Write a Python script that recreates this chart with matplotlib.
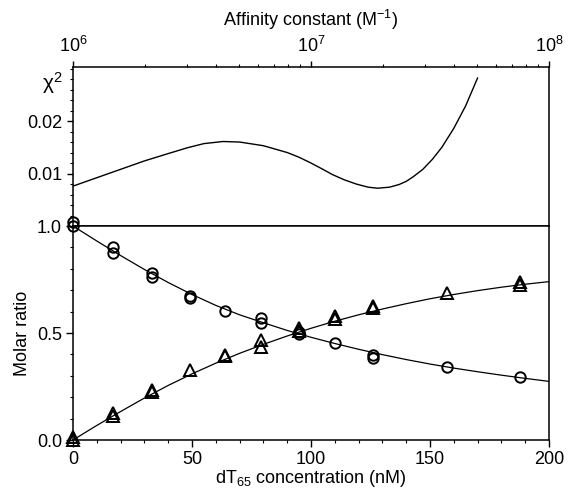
import matplotlib
matplotlib.use("Agg")
import matplotlib.pyplot as plt
import numpy as np
from matplotlib.ticker import MultipleLocator, LogLocator, NullFormatter

plt.rcParams['font.family'] = ['Liberation Sans', 'DejaVu Sans']
plt.rcParams['mathtext.fontset'] = 'custom'
plt.rcParams['mathtext.rm'] = 'Liberation Sans'
plt.rcParams['mathtext.it'] = 'Liberation Sans:italic'

# top panel: chi-square vs affinity constant (log10 K)
log_k = [6.00, 6.10, 6.20, 6.30, 6.40, 6.48, 6.55, 6.63, 6.70, 6.80, 6.90,
         6.95, 7.00, 7.05, 7.09, 7.14, 7.19, 7.24, 7.28, 7.33, 7.37, 7.40,
         7.43, 7.47, 7.51, 7.55, 7.60, 7.65, 7.70]
chi2 = [0.0076, 0.0092, 0.0108, 0.0124, 0.0138, 0.0149, 0.0157, 0.0161, 0.0160,
        0.0153, 0.0140, 0.0131, 0.0120, 0.0108, 0.0098, 0.0088, 0.0080, 0.0074,
        0.0072, 0.0074, 0.0079, 0.0085, 0.0094, 0.0108, 0.0127, 0.0150, 0.0186,
        0.0229, 0.0282]

# bottom panel: measured points
circ_x = [0, 0, 17, 17, 33, 33, 49, 49, 64, 79, 79, 95, 95, 110, 126, 126, 157, 188]
circ_y = [1.02, 1.00, 0.90, 0.875, 0.78, 0.76, 0.675, 0.665, 0.605, 0.57, 0.545,
          0.505, 0.495, 0.452, 0.395, 0.385, 0.34, 0.296]
tri_x = [0, 0, 17, 17, 33, 33, 49, 64, 64, 79, 79, 95, 95, 110, 110, 126, 126, 157, 188, 188]
tri_y = [0.015, 0.0, 0.125, 0.11, 0.232, 0.225, 0.327, 0.398, 0.392, 0.467, 0.436,
         0.522, 0.51, 0.58, 0.565, 0.628, 0.615, 0.688, 0.737, 0.725]

# fitted curves
fit_x = [0, 10, 20, 30, 40, 50, 60, 70, 80, 90, 100, 110, 120, 130, 140, 150,
         160, 170, 180, 190, 200]
fit_circ = [1.0, 0.930, 0.862, 0.797, 0.736, 0.680, 0.629, 0.585, 0.548, 0.512,
            0.480, 0.451, 0.424, 0.399, 0.376, 0.355, 0.336, 0.319, 0.303, 0.288,
            0.274]
fit_tri = [0.0, 0.068, 0.133, 0.196, 0.255, 0.309, 0.359, 0.405, 0.447, 0.486,
           0.522, 0.555, 0.585, 0.612, 0.637, 0.660, 0.680, 0.698, 0.714, 0.728,
           0.740]

fig = plt.figure(figsize=(5.68, 4.94), dpi=100)
ax_top = fig.add_axes([0.1285, 0.5425, 0.838, 0.3219])
ax_bot = fig.add_axes([0.1285, 0.1093, 0.838, 0.4332])

for ax in (ax_top, ax_bot):
    for s in ax.spines.values():
        s.set_linewidth(1.1)

# ---- top panel
ax_top.plot([10 ** v for v in log_k], chi2, color='black', lw=1.0)
ax_top.set_xscale('log')
ax_top.set_xlim(1e6, 1e8)
ax_top.set_ylim(0, 0.0303)
ax_top.xaxis.tick_top()
ax_top.xaxis.set_label_position('top')
ax_top.set_xlabel('Affinity constant (M$^{-1}$)', fontsize=13, labelpad=7)
ax_top.xaxis.set_major_locator(LogLocator(base=10, numticks=5))
ax_top.xaxis.set_minor_locator(LogLocator(base=10, subs=np.arange(2, 10), numticks=20))
ax_top.xaxis.set_minor_formatter(NullFormatter())
ax_top.set_yticks([0.01, 0.02])
ax_top.set_yticklabels(['0.01', '0.02'])
ax_top.yaxis.set_minor_locator(MultipleLocator(0.002))
ax_top.tick_params(axis='both', which='major', direction='out', length=4, width=1,
                   labelsize=13, pad=4)
ax_top.tick_params(axis='both', which='minor', direction='out', length=2, width=0.8)
ax_top.text(-0.022, 0.0272, 'χ$^2$', transform=ax_top.get_yaxis_transform(),
            ha='right', va='center', fontsize=15)

# ---- bottom panel
ax_bot.plot(fit_x, fit_circ, color='black', lw=0.9)
ax_bot.plot(fit_x, fit_tri, color='black', lw=0.9)
ax_bot.plot(circ_x, circ_y, linestyle='none', marker='o', markersize=7.5,
            markerfacecolor='none', markeredgecolor='black', markeredgewidth=1.4,
            clip_on=False, zorder=5)
ax_bot.plot(tri_x, tri_y, linestyle='none', marker='^', markersize=8,
            markerfacecolor='none', markeredgecolor='black', markeredgewidth=1.4,
            clip_on=False, zorder=5)
ax_bot.set_xlim(0, 200)
ax_bot.set_ylim(0, 1.0)
ax_bot.set_xticks([0, 50, 100, 150, 200])
ax_bot.xaxis.set_minor_locator(MultipleLocator(10))
ax_bot.set_yticks([0.0, 0.5, 1.0])
ax_bot.set_yticklabels(['0.0', '0.5', '1.0'])
ax_bot.yaxis.set_minor_locator(MultipleLocator(0.1))
ax_bot.tick_params(axis='both', which='major', direction='out', length=5, width=1,
                   labelsize=13, pad=3)
ax_bot.tick_params(axis='both', which='minor', direction='out', length=2.5, width=0.8)
ax_bot.set_xlabel('dT$_{65}$ concentration (nM)', fontsize=13, labelpad=0)
ax_bot.set_ylabel('Molar ratio', fontsize=13, labelpad=4)

fig.savefig('out.png', dpi=100)
